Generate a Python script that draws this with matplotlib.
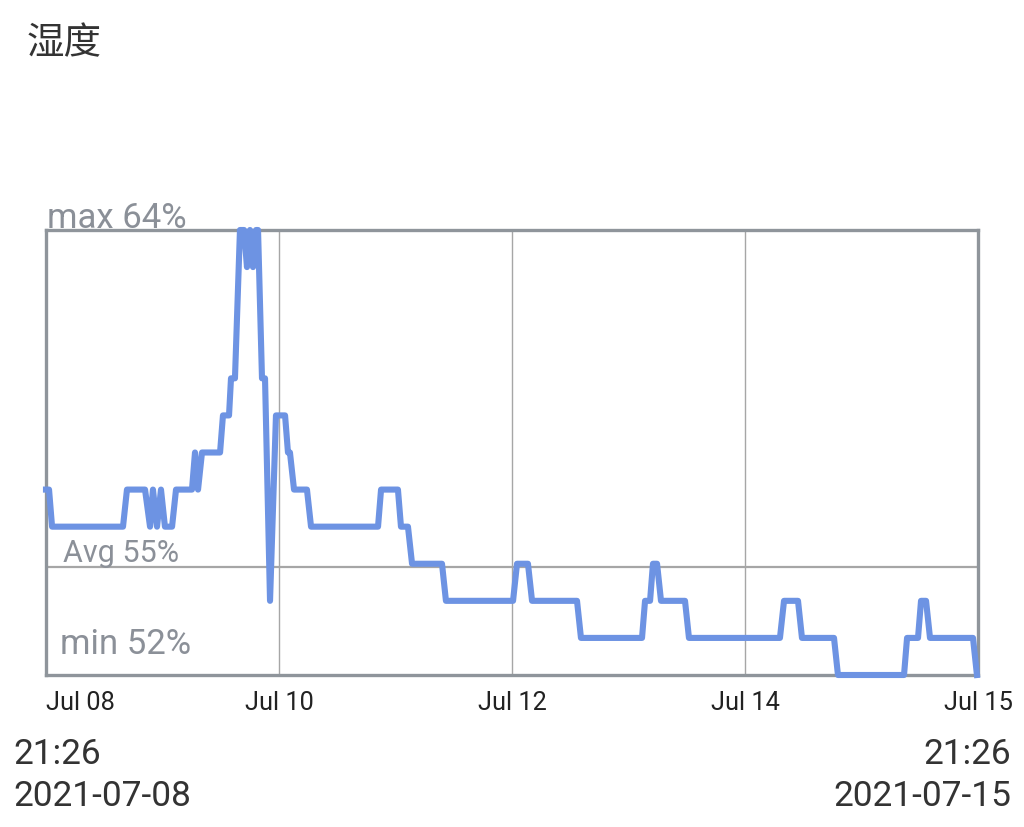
import matplotlib
matplotlib.use("Agg")
import matplotlib.pyplot as plt
import matplotlib.transforms as mtransforms

plt.rcParams['font.family'] = ['Roboto', 'Noto Sans CJK SC', 'DejaVu Sans']

# ---- data ----
title = "湿度"
# time in days since the left edge (Jul 08), humidity in %
t_days = [0.000, 0.026, 0.052, 0.661, 0.695, 0.850, 0.893, 0.918, 0.953, 0.987,
          1.021, 1.082, 1.116, 1.253, 1.279, 1.305, 1.339, 1.494, 1.519, 1.571,
          1.588, 1.622, 1.665, 1.700, 1.725, 1.751, 1.777, 1.803, 1.820, 1.854,
          1.880, 1.923, 1.974, 2.052, 2.077, 2.094, 2.129, 2.240, 2.275, 2.850,
          2.876, 3.021, 3.047, 3.107, 3.142, 3.399, 3.433, 4.009, 4.043, 4.137,
          4.172, 4.558, 4.592, 5.116, 5.142, 5.185, 5.210, 5.245, 5.279, 5.485,
          5.519, 6.300, 6.335, 6.455, 6.489, 6.764, 6.798, 7.365, 7.391, 7.485,
          7.511, 7.554, 7.588, 7.957, 7.991]
humidity = [57, 57, 56, 56, 57, 57, 56, 57, 56, 57,
            56, 56, 57, 57, 58, 57, 58, 58, 59, 59,
            60, 60, 64, 64, 63, 64, 63, 64, 64, 60,
            60, 54, 59, 59, 58, 58, 57, 57, 56, 56,
            57, 57, 56, 56, 55, 55, 54, 54, 55, 55,
            54, 54, 53, 53, 54, 54, 55, 55, 54, 54,
            53, 53, 54, 54, 53, 53, 52, 52, 53, 53,
            54, 54, 53, 53, 52]
y_min, y_max, y_avg = 52, 64, 54.9
x_tick_pos = [0, 2, 4, 6, 8]
x_tick_labels = ["Jul 08", "Jul 10", "Jul 12", "Jul 14", "Jul 15"]
grid_days = [2, 4, 6]
start_time, start_date = "21:26", "2021-07-08"
end_time, end_date = "21:26", "2021-07-15"

# ---- figure ----
W, H = 1024, 828
fig = plt.figure(figsize=(W / 100, H / 100), dpi=100)
fig.patch.set_facecolor("white")
ax = fig.add_axes([46 / W, (H - 676) / H, 932 / W, 445 / H])
ax.set_xlim(0, 8)
ax.set_ylim(y_min, y_max)

gray_txt = "#8b9098"
border = "#8f959b"

for g in grid_days:
    ax.axvline(g, color="#a6a6a6", lw=1.0, zorder=1)
ax.axhline(y_avg, color="#a6a6a6", lw=1.6, zorder=1)

ax.plot(t_days, humidity, color="#6d93e3", lw=4.4, solid_joinstyle="round",
        zorder=3, clip_on=False)

for s in ax.spines.values():
    s.set_color(border)
    s.set_linewidth(2.4)
ax.set_xticks([])
ax.set_yticks([])

bt = mtransforms.blended_transform_factory(ax.transAxes, ax.transData)
ax.text(0.001, y_max - 0.1, f"max {y_max}%", fontsize=25, color=gray_txt,
        ha="left", va="bottom", transform=bt)
ax.text(0.018, y_avg + 0.02, "Avg 55%", fontsize=22, color=gray_txt,
        ha="left", va="bottom", transform=bt)
ax.text(0.015, y_min + 0.4, f"min {y_min}%", fontsize=25, color=gray_txt,
        ha="left", va="bottom", transform=bt)

# x tick labels
trans = mtransforms.blended_transform_factory(ax.transData, fig.transFigure)
for i, (p, lab) in enumerate(zip(x_tick_pos, x_tick_labels)):
    ha = "left" if i == 0 else "center"
    ax.text(p, 1 - 703 / H, lab, fontsize=18.3, color="#222222", ha=ha, va="center",
            transform=trans)

# title
fig.text(27 / W, 1 - 44 / H, title, fontsize=27, color="#333333", ha="left", va="center",
         family=["Noto Sans CJK SC", "DejaVu Sans"])

# start / end timestamps
fig.text(13 / W, 1 - 755 / H, start_time, fontsize=25.4, color="#333333", ha="left", va="center")
fig.text(13 / W, 1 - 797 / H, start_date, fontsize=25.4, color="#333333", ha="left", va="center")
fig.text(1011 / W, 1 - 755 / H, end_time, fontsize=25.4, color="#333333", ha="right", va="center")
fig.text(1011 / W, 1 - 797 / H, end_date, fontsize=25.4, color="#333333", ha="right", va="center")

fig.savefig("out.png", dpi=100, facecolor="white")
